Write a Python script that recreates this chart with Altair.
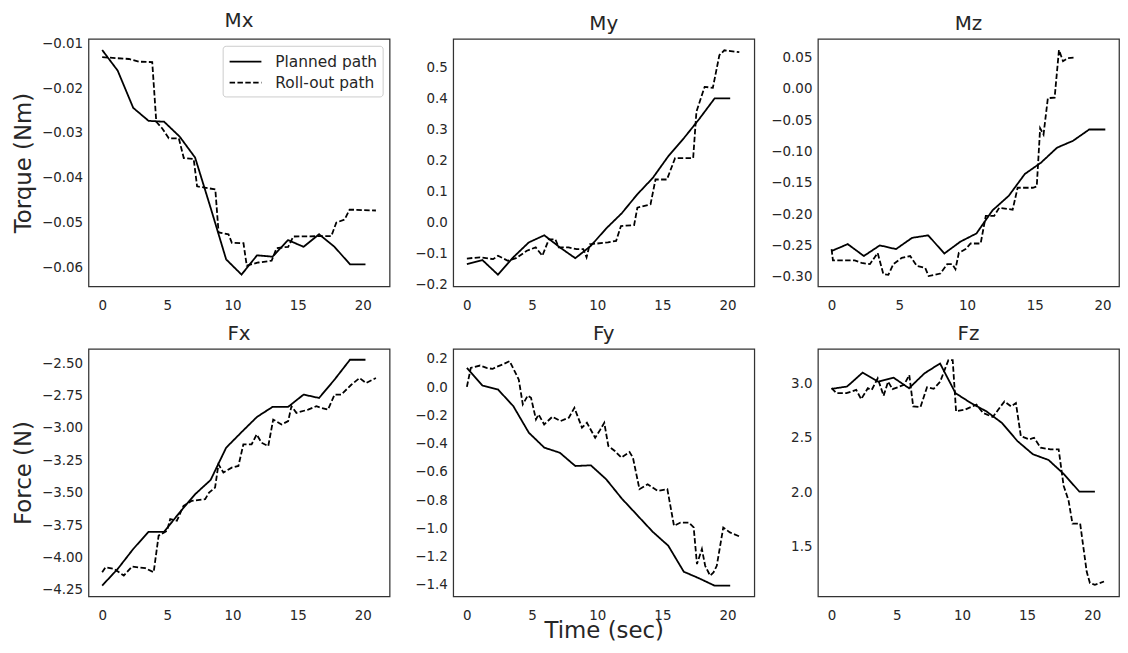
import altair as alt
import pandas as pd

FONT = "DejaVu Sans"
TXT = "#262626"

# ---------------- data ----------------
planned_t = [0.0, 1.19, 2.38, 3.56, 4.75, 5.94, 7.13, 8.32, 9.51, 10.69,
             11.88, 13.07, 14.26, 15.45, 16.64, 17.82, 19.01, 20.2]
x_ticks = [0, 5, 10, 15, 20]
series_names = ["Planned path", "Roll-out path"]

# Mx
mx_planned = [-0.0115, -0.0161, -0.0244, -0.0273, -0.0275, -0.0308, -0.0355, -0.0467, -0.0582,
              -0.0616, -0.0573, -0.0576, -0.0539, -0.0554, -0.0526, -0.0554, -0.0593, -0.0593]
mx_roll_t = [0.0, 2.06, 2.82, 3.84, 4.15, 4.61, 5.11, 5.88, 6.26, 7.02, 7.28, 8.68, 8.93, 9.69,
             9.95, 10.84, 11.09, 11.98, 13.0, 13.38, 14.27, 14.66, 17.58, 17.96, 18.6, 18.98, 21.0]
mx_roll = [-0.0131, -0.0135, -0.0141, -0.0142, -0.0275, -0.0290, -0.0312, -0.0312, -0.0356,
           -0.0358, -0.0419, -0.0426, -0.0522, -0.0526, -0.0545, -0.0546, -0.0596, -0.0589,
           -0.0585, -0.0557, -0.0554, -0.0531, -0.0530, -0.0500, -0.0493, -0.0471, -0.0473]
mx_yticks = [-0.06, -0.05, -0.04, -0.03, -0.02, -0.01]

# My
my_planned = [-0.134, -0.121, -0.168, -0.112, -0.064, -0.041, -0.080, -0.115, -0.075,
              -0.019, 0.030, 0.091, 0.144, 0.214, 0.272, 0.334, 0.401, 0.401]
my_roll_t = [0.0, 1.01, 2.01, 2.39, 3.14, 3.77, 4.6, 5.28, 5.79, 6.29, 6.79, 7.04, 7.8, 8.43,
             8.93, 9.18, 9.43, 10.82, 11.45, 11.82, 12.83, 13.08, 14.09, 14.47, 15.35, 15.97,
             17.36, 17.61, 18.24, 18.87, 19.37, 19.75, 20.9]
my_roll = [-0.116, -0.112, -0.118, -0.107, -0.123, -0.115, -0.091, -0.080, -0.107, -0.054,
           -0.054, -0.080, -0.080, -0.086, -0.086, -0.112, -0.070, -0.064, -0.059, -0.011,
           -0.008, 0.048, 0.059, 0.139, 0.139, 0.208, 0.208, 0.358, 0.438, 0.435, 0.540,
           0.556, 0.550]
my_yticks = [-0.2, -0.1, 0.0, 0.1, 0.2, 0.3, 0.4, 0.5]

# Mz
mz_planned = [-0.259, -0.248, -0.267, -0.250, -0.256, -0.238, -0.234, -0.263, -0.244,
              -0.231, -0.194, -0.171, -0.136, -0.118, -0.094, -0.083, -0.065, -0.065]
mz_roll_t = [0.0, 0.1, 1.71, 2.21, 2.83, 3.4, 3.82, 4.19, 4.56, 5.18, 5.8, 6.29, 6.91, 7.16,
             8.03, 8.53, 8.9, 9.14, 9.39, 9.89, 10.26, 11.0, 11.38, 12.0, 12.37, 13.36, 13.73,
             14.85, 15.14, 15.39, 15.64, 15.96, 16.46, 16.78, 17.08, 17.45, 17.94]
mz_roll = [-0.256, -0.274, -0.274, -0.278, -0.280, -0.262, -0.296, -0.297, -0.280, -0.270,
           -0.267, -0.283, -0.286, -0.299, -0.295, -0.280, -0.280, -0.288, -0.262, -0.256,
           -0.247, -0.247, -0.203, -0.203, -0.190, -0.193, -0.158, -0.158, -0.156, -0.063,
           -0.073, -0.015, -0.014, 0.062, 0.044, 0.049, 0.050]
mz_yticks = [-0.30, -0.25, -0.20, -0.15, -0.10, -0.05, 0.00, 0.05]

# Fx
fx_planned = [-4.217, -4.089, -3.935, -3.802, -3.802, -3.653, -3.512, -3.402, -3.153,
              -3.033, -2.915, -2.838, -2.838, -2.743, -2.769, -2.628, -2.474, -2.474]
fx_roll_t = [0.0, 0.25, 0.89, 1.66, 2.29, 3.31, 3.95, 4.33, 4.97, 5.22, 5.73, 6.24, 6.88, 7.9,
             8.2, 8.66, 8.92, 9.3, 9.94, 10.45, 10.83, 11.46, 11.85, 12.23, 12.74, 13.12,
             13.76, 14.27, 14.52, 14.9, 15.8, 16.43, 16.82, 17.32, 17.83, 18.34, 19.11,
             19.75, 20.25, 21.0]
fx_roll = [-4.114, -4.076, -4.088, -4.140, -4.071, -4.083, -4.114, -3.832, -3.794, -3.704,
           -3.717, -3.602, -3.563, -3.550, -3.499, -3.461, -3.281, -3.345, -3.307, -3.294,
           -3.128, -3.128, -3.051, -3.115, -3.141, -2.936, -2.974, -2.948, -2.833, -2.884,
           -2.859, -2.833, -2.846, -2.859, -2.743, -2.743, -2.667, -2.615, -2.654, -2.615]
fx_yticks = [-4.25, -4.0, -3.75, -3.5, -3.25, -3.0, -2.75, -2.5]

# Fy
fy_planned = [0.136, 0.012, -0.016, -0.134, -0.322, -0.428, -0.464, -0.558, -0.553,
              -0.652, -0.788, -0.906, -1.024, -1.122, -1.306, -1.353, -1.405, -1.405]
fy_roll_t = [0.0, 0.3, 1.01, 1.51, 1.97, 2.27, 2.72, 3.28, 3.98, 4.29, 4.67, 4.92, 5.3, 5.5,
             5.93, 6.56, 7.19, 7.82, 8.25, 8.83, 9.21, 9.84, 10.21, 10.54, 10.85, 11.35,
             11.85, 12.48, 12.74, 13.24, 13.87, 14.63, 15.38, 15.89, 16.39, 17.02, 17.4,
             17.65, 18.03, 18.28, 18.66, 18.92, 19.17, 19.67, 20.18, 20.9]
fy_roll = [0.002, 0.136, 0.153, 0.136, 0.129, 0.144, 0.160, 0.184, 0.054, -0.122, -0.059,
           -0.075, -0.228, -0.193, -0.264, -0.209, -0.240, -0.216, -0.146, -0.287, -0.252,
           -0.358, -0.304, -0.252, -0.416, -0.452, -0.499, -0.459, -0.499, -0.722, -0.687,
           -0.734, -0.722, -0.981, -0.958, -0.958, -0.993, -1.252, -1.146, -1.264, -1.334,
           -1.311, -1.264, -0.993, -1.028, -1.056]
fy_yticks = [-1.4, -1.2, -1.0, -0.8, -0.6, -0.4, -0.2, 0.0, 0.2]

# Fz
fz_planned = [2.954, 2.976, 3.104, 3.021, 3.058, 2.960, 3.098, 3.189, 2.914,
              2.823, 2.746, 2.639, 2.471, 2.349, 2.297, 2.166, 2.004, 2.004]
fz_roll_t = [0.0, 0.38, 1.14, 1.89, 2.27, 2.78, 3.08, 3.54, 3.99, 4.34, 4.67, 5.56, 5.96,
             6.26, 6.82, 7.32, 7.83, 8.33, 8.96, 9.29, 9.55, 10.23, 11.11, 11.62, 12.37,
             12.88, 13.26, 13.76, 14.14, 14.52, 15.15, 15.53, 16.04, 16.79, 17.42, 17.8,
             18.18, 18.48, 19.07, 19.57, 19.82, 20.2, 20.9]
fz_roll = [2.960, 2.914, 2.914, 2.945, 2.859, 2.960, 2.945, 3.052, 2.890, 3.021, 2.951,
           2.991, 3.082, 2.792, 2.786, 2.969, 2.954, 3.021, 3.220, 3.220, 2.746, 2.762,
           2.808, 2.731, 2.694, 2.777, 2.838, 2.792, 2.823, 2.517, 2.487, 2.502, 2.410,
           2.395, 2.395, 2.059, 1.921, 1.708, 1.708, 1.265, 1.158, 1.142, 1.173]
fz_yticks = [1.5, 2.0, 2.5, 3.0]

panels = [
    dict(name="Mx", planned=mx_planned, rt=mx_roll_t, rv=mx_roll, ydom=[-0.0642, -0.0090],
         yticks=mx_yticks, fmt=".2f", xdom=[-1.05, 22.05], ytitle="Torque (Nm)", xtitle=None, legend=True),
    dict(name="My", planned=my_planned, rt=my_roll_t, rv=my_roll, ydom=[-0.2055, 0.593],
         yticks=my_yticks, fmt=".1f", xdom=[-1.05, 22.05], ytitle=None, xtitle=None, legend=False),
    dict(name="Mz", planned=mz_planned, rt=mz_roll_t, rv=mz_roll, ydom=[-0.3153, 0.0798],
         yticks=mz_yticks, fmt=".2f", xdom=[-1.01, 21.21], ytitle=None, xtitle=None, legend=False),
    dict(name="Fx", planned=fx_planned, rt=fx_roll_t, rv=fx_roll, ydom=[-4.30, -2.39],
         yticks=fx_yticks, fmt=".2f", xdom=[-1.05, 22.05], ytitle="Force (N)", xtitle=None, legend=False),
    dict(name="Fy", planned=fy_planned, rt=fy_roll_t, rv=fy_roll, ydom=[-1.48, 0.271],
         yticks=fy_yticks, fmt=".1f", xdom=[-1.05, 22.05], ytitle=None, xtitle="Time (sec)", legend=False),
    dict(name="Fz", planned=fz_planned, rt=fz_roll_t, rv=fz_roll, ydom=[1.036, 3.324],
         yticks=fz_yticks, fmt=".1f", xdom=[-1.05, 22.05], ytitle=None, xtitle=None, legend=False),
]


def make(p):
    df = pd.concat([
        pd.DataFrame({"t": planned_t, "v": p["planned"], "series": series_names[0]}),
        pd.DataFrame({"t": p["rt"], "v": p["rv"], "series": series_names[1]}),
    ], ignore_index=True)
    if p["legend"]:
        leg = alt.Legend(title=None, orient="top-right", offset=7,
                         symbolType="M-1.6,0H1.6", symbolSize=400, symbolOffset=7,
                         symbolStrokeWidth=1.8, symbolStrokeColor="black", symbolFillColor="transparent",
                         labelFont=FONT, labelFontSize=15.5, labelColor=TXT, labelOffset=19,
                         padding=5, rowPadding=1, fillColor="white", strokeColor="#cccccc",
                         cornerRadius=3)
    else:
        leg = None
    return alt.Chart(df).mark_line(color="black", strokeWidth=1.8, clip=True).encode(
        x=alt.X("t:Q", scale=alt.Scale(domain=p["xdom"], nice=False, zero=False),
                axis=alt.Axis(values=x_ticks, title=p["xtitle"], format="d",
                              labelPadding=12, titlePadding=-2)),
        y=alt.Y("v:Q", scale=alt.Scale(domain=p["ydom"], nice=False, zero=False),
                axis=alt.Axis(values=p["yticks"], title=p["ytitle"], format=p["fmt"],
                              labelPadding=6, titlePadding=6)),
        strokeDash=alt.StrokeDash("series:N",
                                  scale=alt.Scale(domain=series_names, range=[[1, 0], [5.5, 2.4]]),
                                  legend=leg),
    ).properties(width=303, height=249, title=p["name"])


chart = alt.concat(*[make(p) for p in panels], columns=3, spacing={"row": 63, "column": 64},
                   bounds="flush").resolve_scale(
    x="independent", y="independent", strokeDash="independent"
).resolve_legend(strokeDash="independent").properties(
    padding={"left": 4, "top": 0, "right": 0, "bottom": 0}
).configure_view(
    stroke="#333333", strokeWidth=1.25
).configure_axis(
    grid=False, ticks=False, domain=False,
    labelFont=FONT, labelFontSize=13.5, labelColor=TXT,
    titleFont=FONT, titleFontSize=23, titleColor=TXT, titleFontWeight="normal"
).configure_title(
    font=FONT, fontSize=20, fontWeight="normal", color=TXT, offset=5
)

chart.save("out.html", embed_options={"renderer": "svg", "actions": False})
